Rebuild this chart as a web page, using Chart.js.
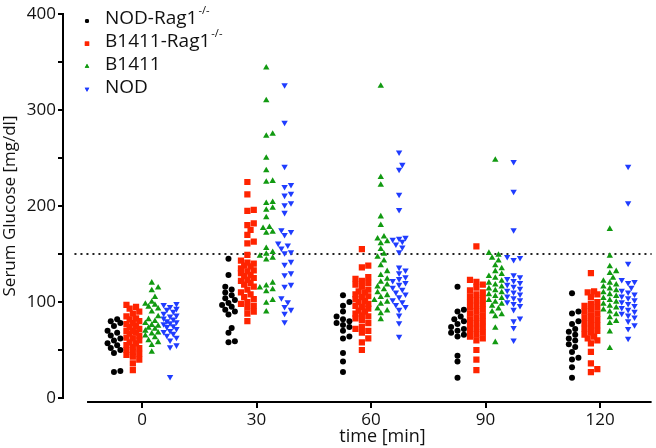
<!DOCTYPE html>
<html>
<head>
<meta charset="utf-8">
<script src="https://cdn.jsdelivr.net/npm/chart.js@4/dist/chart.umd.min.js"></script>
<style>
  html, body { margin: 0; padding: 0; background: #fff; }
  #wrap { width: 656px; height: 448px; position: relative; }
</style>
</head>
<body>
<div id="wrap"><canvas id="glucoseChart"></canvas></div>
<script>
// time points (min)
const categories = ['0', '30', '60', '90', '120'];
const threshold = 150;

// serum glucose [mg/dl], one array per time point
const nodRag1 = [
  [82, 80, 78, 75, 70, 68, 65, 62, 60, 57, 55, 52, 50, 47, 28, 27],
  [145, 128, 116, 113, 110, 107, 104, 102, 99, 97, 95, 92, 90, 87, 73, 68, 59, 58],
  [107, 100, 96, 90, 85, 82, 80, 78, 76, 74, 70, 64, 62, 47, 38, 27],
  [116, 92, 90, 85, 82, 80, 77, 74, 72, 70, 68, 66, 64, 44, 38, 21],
  [109, 90, 88, 80, 77, 72, 69, 66, 62, 60, 56, 53, 48, 42, 40, 32, 21]
];
const b1411Rag1 = [
  [97, 95, 93, 90, 88, 85, 83, 82, 80, 78, 77, 75, 74, 72, 70, 70, 68, 67, 65, 63, 62, 60, 58, 57, 55, 53, 52, 50, 48, 46, 45, 43, 40, 36, 29],
  [225, 212, 196, 195, 182, 180, 175, 170, 163, 161, 149, 143, 141, 140, 138, 137, 135, 133, 132, 130, 128, 127, 125, 123, 122, 120, 118, 116, 113, 110, 108, 105, 103, 100, 98, 96, 94, 90, 88, 80],
  [155, 138, 136, 126, 124, 122, 120, 118, 116, 113, 111, 110, 108, 106, 105, 103, 101, 100, 98, 96, 95, 93, 91, 90, 88, 86, 85, 83, 81, 78, 74, 72, 70, 68, 62, 58, 50],
  [158, 123, 121, 118, 115, 112, 110, 108, 106, 104, 102, 100, 98, 96, 94, 92, 90, 88, 86, 84, 82, 80, 78, 76, 74, 72, 70, 68, 66, 64, 62, 60, 50, 40, 29],
  [130, 111, 110, 108, 105, 100, 98, 96, 94, 92, 90, 88, 86, 84, 82, 80, 78, 76, 74, 72, 70, 68, 66, 64, 62, 60, 57, 48, 36, 30, 27]
];
const b1411 = [
  [120, 115, 112, 105, 100, 98, 97, 95, 93, 90, 85, 82, 80, 78, 76, 75, 73, 72, 70, 68, 67, 65, 63, 60, 58, 55, 48],
  [344, 310, 275, 273, 250, 237, 226, 225, 204, 203, 198, 196, 188, 178, 177, 173, 172, 156, 152, 150, 148, 146, 144, 120, 117, 115, 113, 111, 102, 99, 90],
  [325, 230, 222, 189, 180, 168, 166, 163, 161, 155, 150, 147, 143, 138, 132, 128, 124, 121, 118, 116, 113, 110, 107, 105, 102, 100, 98, 93, 91, 88, 82],
  [248, 151, 149, 146, 143, 138, 135, 132, 129, 127, 125, 122, 120, 118, 116, 114, 112, 110, 108, 106, 104, 102, 100, 98, 96, 93, 90, 87, 85, 73, 58],
  [176, 148, 137, 132, 130, 125, 122, 120, 118, 116, 114, 112, 110, 108, 106, 104, 102, 100, 98, 96, 94, 92, 90, 87, 84, 80, 78, 69, 52]
];
const nod = [
  [98, 97, 95, 93, 92, 90, 88, 86, 85, 83, 82, 80, 79, 78, 77, 75, 74, 72, 70, 69, 67, 65, 63, 60, 55, 53, 22],
  [326, 287, 241, 222, 220, 213, 211, 203, 201, 193, 175, 173, 170, 161, 159, 156, 152, 151, 142, 139, 130, 128, 118, 116, 104, 100, 95, 92, 88, 79],
  [256, 243, 238, 212, 196, 167, 166, 165, 163, 160, 157, 152, 136, 133, 130, 126, 124, 122, 120, 118, 115, 113, 110, 108, 105, 102, 100, 97, 95, 92, 86, 78, 64],
  [246, 215, 175, 147, 146, 144, 128, 126, 124, 122, 120, 118, 116, 114, 112, 110, 108, 106, 104, 102, 100, 98, 96, 92, 83, 80, 73, 60],
  [241, 203, 140, 123, 121, 120, 115, 112, 110, 108, 106, 104, 102, 100, 98, 96, 94, 92, 90, 88, 86, 84, 80, 76, 72, 62]
];

const FONT = '"Open Sans", "DejaVu Sans", sans-serif';

// approximate pixel sizes, only used to spread close values side by side
const PX_PER_CAT = 114.5;
const PX_PER_UNIT = 0.96;

function swarm(groups, shift) {
  const out = [];
  groups.forEach((vals, cat) => {
    const placed = [];
    [...vals].sort((a, b) => a - b).forEach((v) => {
      let best = 0;
      let bestGap = -1;
      for (const k of [0, 1, -1, 2, -2]) {
        const off = k * 3.2;
        let gap = Infinity;
        placed.forEach((p) => {
          const dy = (v - p.v) * PX_PER_UNIT;
          const dx = off - p.off;
          gap = Math.min(gap, Math.sqrt(dx * dx + dy * dy));
        });
        if (gap >= 5) { best = off; bestGap = gap; break; }
        if (gap > bestGap) { best = off; bestGap = gap; }
      }
      placed.push({ v, off: best });
      out.push({ x: cat + shift + best / PX_PER_CAT, y: v });
    });
  });
  return out;
}

const series = [
  { label: 'NOD-Rag1', sup: '-/-', data: nodRag1, color: '#000000', style: 'circle', radius: 3, rot: 0, shift: -0.245 },
  { label: 'B1411-Rag1', sup: '-/-', data: b1411Rag1, color: '#ff2400', style: 'rect', radius: 4.4, rot: 0, shift: -0.08 },
  { label: 'B1411', sup: '', data: b1411, color: '#119a11', style: 'triangle', radius: 3.7, rot: 0, shift: 0.085 },
  { label: 'NOD', sup: '', data: nod, color: '#1f3cff', style: 'triangle', radius: 3.7, rot: 180, shift: 0.245 }
];

const decorPlugin = {
  id: 'decor',
  beforeDatasetsDraw(chart) {
    const { ctx, chartArea, scales } = chart;
    const y = scales.y.getPixelForValue(threshold);
    ctx.save();
    ctx.strokeStyle = '#222';
    ctx.lineWidth = 2;
    ctx.setLineDash([2, 4]);
    ctx.beginPath();
    ctx.moveTo(scales.x.getPixelForValue(-0.59), y);
    ctx.lineTo(chartArea.right, y);
    ctx.stroke();
    ctx.restore();
  },
  afterDraw(chart) {
    const { ctx, chartArea, scales } = chart;
    const xs = scales.x;
    const axisY = chartArea.bottom + 4;
    ctx.save();
    // detached x axis
    ctx.strokeStyle = '#000';
    ctx.lineWidth = 2;
    ctx.beginPath();
    ctx.moveTo(xs.getPixelForValue(-0.48), axisY);
    ctx.lineTo(chartArea.right, axisY);
    categories.forEach((c, i) => {
      const px = Math.round(xs.getPixelForValue(i));
      ctx.moveTo(px, axisY);
      ctx.lineTo(px, axisY + 6);
    });
    ctx.stroke();

    ctx.fillStyle = '#111';
    ctx.font = '18px ' + FONT;
    ctx.textAlign = 'center';
    ctx.textBaseline = 'middle';
    ctx.fillText('time [min]', xs.getPixelForValue(2.1), 437);

    // legend
    ctx.textAlign = 'left';
    series.forEach((s, i) => {
      const ry = 21 + i * 22.7;
      ctx.fillStyle = s.color;
      Chart.helpers.drawPoint(ctx, { pointStyle: s.style, radius: s.radius * 0.7, rotation: s.rot, borderWidth: 0 }, 87, ry);
      ctx.fill();
      ctx.fillStyle = '#111';
      ctx.font = '19px ' + FONT;
      ctx.fillText(s.label, 105, ry - 2);
      if (s.sup) {
        const w = ctx.measureText(s.label).width;
        ctx.font = '11px ' + FONT;
        ctx.fillText(s.sup, 105 + w + 1, ry - 10);
      }
    });
    ctx.restore();
  }
};

new Chart(document.getElementById('glucoseChart'), {
  type: 'scatter',
  data: {
    datasets: series.map((s) => ({
      label: s.label,
      data: swarm(s.data, s.shift),
      pointStyle: s.style,
      pointRadius: s.radius,
      pointRotation: s.rot,
      backgroundColor: s.color,
      borderWidth: 0,
      pointHoverRadius: s.radius
    }))
  },
  options: {
    responsive: true,
    maintainAspectRatio: false,
    animation: false,
    layout: { padding: { top: 14, right: 4 } },
    plugins: { legend: { display: false }, tooltip: { enabled: false } },
    scales: {
      x: {
        type: 'linear',
        min: -0.69,
        max: 4.45,
        grid: { display: false },
        border: { display: false },
        afterBuildTicks: (scale) => { scale.ticks = categories.map((c, i) => ({ value: i })); },
        afterFit: (scale) => { scale.height = 50; },
        ticks: {
          padding: 4,
          color: '#111',
          font: { family: FONT, size: 17 },
          callback: (v) => categories[v] ?? ''
        }
      },
      y: {
        min: 0,
        max: 400,
        afterFit: (scale) => { scale.width = 63; },
        border: { display: true, color: '#000', width: 2 },
        grid: { drawOnChartArea: false, drawTicks: true, tickLength: 5, color: '#000', lineWidth: 2 },
        ticks: {
          stepSize: 50,
          padding: 2,
          color: '#111',
          font: { family: FONT, size: 17 },
          callback: (v) => (v % 100 === 0 ? v : '')
        },
        title: {
          display: true,
          text: 'Serum Glucose [mg/dl]',
          color: '#111',
          font: { family: FONT, size: 17 },
          padding: { top: 0, bottom: 2 }
        }
      }
    }
  },
  plugins: [decorPlugin]
});
</script>
</body>
</html>
